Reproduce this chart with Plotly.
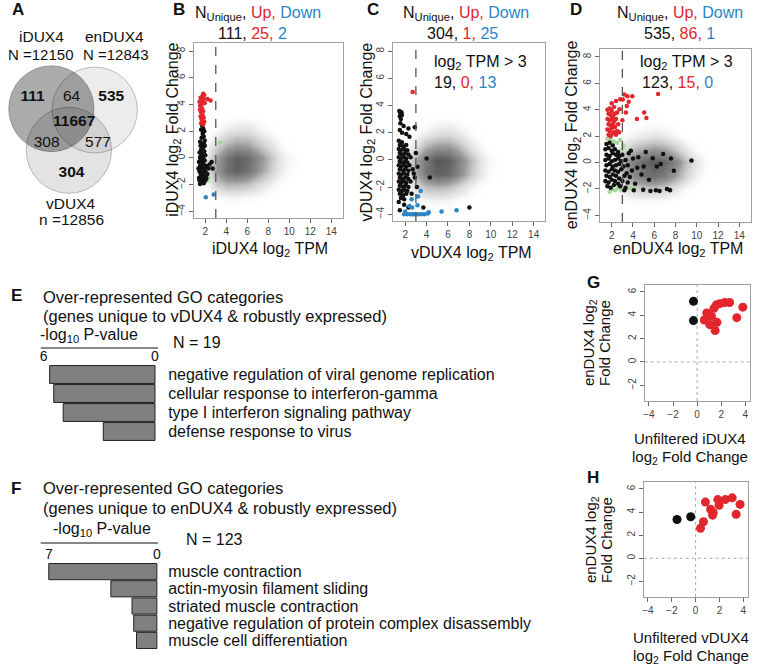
import plotly.graph_objects as go

W, H = 760, 667
FONT = "Liberation Sans, Arial, sans-serif"
RED = "#e2262b"
BLUE = "#2a86c4"
GREEN = "#a8d49e"
BLACK = "#111111"


def px(x):
    return x / W


def py(y):
    return 1 - y / H


# ---------------- data ----------------
# A: Venn counts
venn_sets = ["iDUX4", "enDUX4", "vDUX4"]
venn_totals = ["N =12150", "N =12843", "n =12856"]
venn_regions = ["111", "64", "535", "11667", "308", "577", "304"]
venn_bold = [True, False, True, True, False, False, True]

# B/C/D: gray background density (x bins 1..12, y bins -4..4)
grid_x = [1, 2, 3, 4, 5, 6, 7, 8, 9, 10, 11, 12]
grid_y = [-4, -3, -2, -1, 0, 1, 2, 3, 4]
dens_B = [
    [0, 0, 0, 0, 0, 0, 0, 0, 0, 0, 0, 0],
    [0, 0, .06, .1, .1, .08, .06, .03, .01, 0, 0, 0],
    [0, .05, .3, .4, .4, .35, .25, .15, .06, .02, 0, 0],
    [0, .12, .5, .75, .85, .75, .55, .35, .18, .08, .02, 0],
    [0, .12, .45, .72, .85, .78, .6, .4, .2, .1, .04, 0],
    [0, .06, .25, .42, .5, .48, .35, .22, .1, .04, 0, 0],
    [0, 0, .08, .17, .22, .22, .15, .08, .03, 0, 0, 0],
    [0, 0, 0, .04, .06, .06, .04, .01, 0, 0, 0, 0],
    [0, 0, 0, 0, 0, 0, 0, 0, 0, 0, 0, 0],
]
dens_C = [
    [0, 0, 0, 0, 0, 0, 0, 0, 0, 0, 0, 0],
    [0, 0, .05, .1, .12, .1, .07, .04, .01, 0, 0, 0],
    [0, .02, .25, .38, .42, .38, .28, .15, .06, .02, 0, 0],
    [0, .08, .45, .72, .85, .8, .62, .38, .18, .07, .02, 0],
    [0, .08, .45, .72, .9, .85, .66, .42, .2, .08, .02, 0],
    [0, .03, .22, .42, .52, .52, .4, .22, .1, .03, 0, 0],
    [0, 0, .06, .14, .2, .22, .16, .08, .03, 0, 0, 0],
    [0, 0, 0, .03, .05, .06, .04, .01, 0, 0, 0, 0],
    [0, 0, 0, 0, 0, 0, 0, 0, 0, 0, 0, 0],
]
dens_D = [
    [0, 0, 0, 0, 0, 0, 0, 0, 0, 0, 0, 0],
    [0, 0, .03, .05, .06, .06, .05, .03, .01, 0, 0, 0],
    [0, 0, .18, .28, .32, .32, .28, .18, .08, .03, 0, 0],
    [0, .06, .38, .58, .72, .76, .66, .48, .28, .12, .04, 0],
    [0, .06, .42, .66, .8, .88, .8, .62, .38, .18, .07, .02],
    [0, .03, .22, .37, .47, .52, .47, .32, .17, .07, .02, 0],
    [0, 0, .06, .12, .16, .2, .17, .1, .04, .01, 0, 0],
    [0, 0, 0, .02, .04, .05, .04, .01, 0, 0, 0, 0],
    [0, 0, 0, 0, 0, 0, 0, 0, 0, 0, 0, 0],
]

# B: iDUX4 unique genes
B_red_x = [1.45, 1.55, 1.6, 1.7, 1.8, 1.9, 1.5, 1.65, 1.75, 1.85, 1.95, 1.5, 1.6,
           1.7, 1.8, 2.5, 1.55, 1.65, 1.75, 1.85, 1.6, 1.7, 1.8, 1.9, 2.2]
B_red_y = [4.2, 4.5, 4.3, 4.6, 4.8, 4.7, 3.9, 4.0, 4.2, 4.4, 4.1, 3.6, 3.4,
           3.7, 3.5, 4.3, 3.1, 2.9, 3.2, 3.0, 2.6, 2.8, 2.5, 2.7, 4.4]
B_blk_x = [1.7, 1.8, 1.9, 1.6, 1.75, 1.85, 1.65, 1.95, 1.5, 1.7, 1.8, 1.6, 1.9, 1.45,
           1.7, 2.0, 1.55, 1.8, 1.65, 1.95, 1.4, 1.75, 1.85, 1.5, 2.1, 1.6, 1.9, 1.7,
           2.3, 1.45, 1.8, 2.0, 1.55, 1.65, 1.9, 2.2, 1.4, 1.75, 2.0, 1.6, 1.85, 1.5,
           2.7, 2.6, 1.55, 1.85, 1.6, 1.7, 2.4, 1.35, 1.95, 1.5, 1.7, 1.8, 2.1, 1.45]
B_blk_y = [2.4, 2.2, 2.0, 2.1, 1.8, 1.6, 1.5, 1.3, 1.2, 1.0, 0.8, 0.6, 0.5, 0.4,
           0.3, 0.2, 0.1, 0.0, -0.1, -0.2, -0.3, -0.4, -0.5, -0.6, -0.6, -0.7, -0.8, -0.9,
           -0.8, -1.0, -1.1, -1.0, -1.2, -1.3, -1.4, -1.2, -1.5, -1.6, -1.7, -1.8, -1.9, -1.95,
           -0.8, -0.3, 0.9, 1.1, -0.2, -1.5, -0.5, -0.8, 0.9, 0.0, -0.5, -1.3, -1.5, -1.7]
B_blue_x = [2.05, 2.8]
B_blue_y = [-2.95, -2.75]
B_grn_x = [3.4, 2.2, 2.3]
B_grn_y = [1.15, -1.7, -1.5]

# C: vDUX4 unique genes
C_red_x = [2.7]
C_red_y = [5.0]
C_blk_x = [1.45, 1.55, 1.65, 1.5, 1.6, 1.7, 1.55, 1.85, 2.3, 2.9, 1.5, 1.7, 2.1, 2.4,
           1.4, 1.7, 1.5, 1.8, 2.1, 1.4, 1.6, 1.9, 2.2, 1.5, 1.7, 2.0, 2.3,
           1.4, 1.6, 1.9, 2.1, 2.5, 1.5, 1.7, 2.0, 2.2, 1.4, 1.6, 1.9, 2.1, 2.4,
           1.5, 1.8, 2.0, 2.3, 2.7, 1.4, 1.6, 1.9, 2.2, 1.5, 1.7, 2.0, 2.3, 2.9,
           1.4, 1.6, 1.9, 2.1, 2.5, 1.5, 1.8, 2.0, 2.3, 1.4, 1.7, 1.9, 2.2,
           1.5, 1.8, 2.1, 1.6, 1.9,
           4.0, 4.3, 3.15, 8.0, 1.5, 2.3, 3.7, 3.1, 2.8, 3.0, 2.6, 1.9, 1.4]
C_blk_y = [3.6, 3.4, 3.5, 3.2, 3.0, 3.3, 2.7, 2.5, 2.3, 2.4, 2.2, 2.0, 1.9, 1.7,
           1.4, 1.3, 1.1, 1.0, 1.1, 0.8, 0.7, 0.8, 0.7, 0.5, 0.4, 0.5, 0.4,
           0.2, 0.1, 0.2, 0.1, 0.2, -0.1, -0.2, -0.1, -0.2, -0.4, -0.5, -0.4, -0.5, -0.4,
           -0.7, -0.8, -0.7, -0.8, -0.7, -1.0, -1.1, -1.0, -1.1, -1.3, -1.4, -1.3, -1.4, -1.3,
           -1.6, -1.7, -1.6, -1.7, -1.6, -1.9, -2.0, -1.9, -2.0, -2.2, -2.3, -2.2, -2.3,
           -2.5, -2.6, -2.5, -2.8, -2.9,
           0.1, -1.3, -0.5, -3.5, -3.7, -3.5, -3.5, -2.0, -1.0, 0.5, -2.5, -3.3, -3.1]
C_blue_x = [1.9, 2.2, 2.5, 2.7, 2.9, 3.2, 3.5, 3.8, 4.1, 4.2, 5.4, 6.8, 2.6, 2.65,
            3.15, 3.2, 3.45, 2.0, 2.4]
C_blue_y = [-4.0, -4.0, -4.0, -4.0, -4.0, -4.0, -4.0, -4.0, -3.95, -3.85, -3.8, -3.7, -2.9, -3.5,
            -3.35, -2.7, -2.3, -3.8, -3.4]

# D: enDUX4 unique genes
D_red_x = [1.6, 1.8, 2.0, 2.2, 1.7, 1.9, 2.1, 2.3, 2.5, 1.6, 1.8, 2.0, 2.2, 2.4, 1.7,
           1.9, 2.1, 2.3, 2.6, 1.6, 1.8, 2.0, 2.2, 2.5, 1.7, 1.9, 2.1, 2.4, 2.7, 2.0,
           2.4, 3.04, 3.19, 3.48, 3.93, 3.42, 3.33, 4.37, 5.05, 5.26, 6.36, 2.74, 3.0, 2.8, 3.6]
D_red_y = [4.0, 4.1, 3.9, 4.2, 3.7, 3.6, 3.5, 3.7, 3.8, 3.3, 3.2, 3.3, 3.1, 3.3, 2.9,
           2.8, 2.9, 2.7, 2.9, 2.5, 2.4, 2.6, 2.3, 2.4, 2.1, 2.0, 2.2, 2.1, 2.3, 4.5,
           4.66, 4.78, 5.15, 5.03, 5.03, 4.29, 3.79, 3.3, 3.79, 3.37, 5.2, 4.04, 3.2, 4.8, 4.6]
D_blk_x = [1.5, 1.8, 2.1, 1.4, 1.7, 2.0, 2.3, 2.6, 1.5, 1.8, 2.1, 2.4, 2.7, 3.0, 3.6,
           1.4, 1.7, 2.0, 2.3, 2.6, 2.9, 3.3, 4.0, 1.5, 1.8, 2.1, 2.4, 2.7, 3.1, 3.5, 4.4,
           1.4, 1.7, 2.0, 2.3, 2.6, 2.9, 3.4, 3.9, 1.5, 1.8, 2.1, 2.4, 2.7, 3.2, 3.7,
           1.4, 1.7, 2.0, 2.3, 2.6, 3.0, 3.5, 1.6, 1.9, 2.2, 2.8, 3.3,
           3.19, 4.07, 4.96, 5.64, 6.15, 6.5, 7.19, 7.48, 9.5, 7.84, 7.57, 6.83, 5.85,
           6.24, 5.2, 4.8, 5.5, 4.2, 3.8, 4.5, 6.6, 5.0]
D_blk_y = [1.4, 1.5, 1.3, 1.0, 1.1, 0.9, 1.0, 0.8, 0.6, 0.5, 0.7, 0.6, 0.5, 0.6, 0.7,
           0.2, 0.3, 0.1, 0.2, 0.3, 0.1, 0.2, 0.3, -0.2, -0.1, -0.3, -0.2, -0.1, -0.3, -0.2, -0.4,
           -0.6, -0.7, -0.5, -0.6, -0.7, -0.5, -0.8, -0.6, -1.0, -1.1, -0.9, -1.0, -1.2, -1.0, -1.1,
           -1.4, -1.5, -1.3, -1.4, -1.6, -1.4, -1.5, -1.8, -1.9, -1.7, -1.8, -1.9,
           -2.1, -2.1, -2.05, -2.15, -2.1, -2.15, -2.0, -2.1, 0.16, -0.61, 0.3, 0.65, 0.33,
           -0.29, 0.8, -0.9, -1.3, -1.6, 0.9, 0.4, -0.1, -0.3]
D_grn_x = [1.6, 1.9, 2.2, 2.5, 2.8, 3.1, 2.0, 2.3, 2.6, 2.9, 3.3, 3.7, 4.2, 1.8, 7.5, 1.5, 3.0]
D_grn_y = [1.8, 1.7, 1.6, 1.5, 1.7, 1.3, -2.0, -2.1, -1.9, -2.1, -2.0, -1.9, -1.8, -2.2, -2.0, -1.6, 1.0]
D_blue_x = []
D_blue_y = []

# E/F: GO enrichment (-log10 P)
E_terms = ["negative regulation of viral genome replication",
           "cellular response to interferon-gamma",
           "type I interferon signaling pathway",
           "defense response to virus"]
E_vals = [5.68, 5.46, 4.95, 2.79]
F_terms = ["muscle contraction",
           "actin-myosin filament sliding",
           "striated muscle contraction",
           "negative regulation of protein complex disassembly",
           "muscle cell differentiation"]
F_vals = [7.0, 2.98, 1.61, 1.5, 1.32]

# G/H: enDUX4 LFC vs unfiltered iDUX4 / vDUX4 LFC
G_red_x = [0.8, 0.6, 1.05, 1.5, 1.65, 1.2, 1.4, 1.9, 2.3, 2.7, 3.3, 3.8, 1.6]
G_red_y = [4.2, 3.6, 3.2, 2.7, 3.4, 3.9, 4.6, 5.0, 5.1, 5.1, 3.8, 4.7, 4.9]
G_blk_x = [-0.3, -0.3]
G_blk_y = [5.2, 3.55]
H_red_x = [0.82, 0.41, 0.66, 1.26, 1.48, 1.42, 1.86, 1.97, 2.49, 3.07, 3.4, 3.73]
H_red_y = [4.86, 2.6, 3.16, 4.24, 3.95, 3.73, 5.08, 4.58, 5.08, 5.23, 3.81, 4.66]
H_blk_x = [-1.56, -0.41]
H_blk_y = [3.36, 3.59]

TPM_CUTOFF = 3

fig = go.Figure()


def note(text, x, y, size=16, color="#111", xanchor="center", angle=0):
    fig.add_annotation(text=text, x=px(x), y=py(y), xref="paper", yref="paper",
                       showarrow=False, xanchor=xanchor, yanchor="middle", textangle=angle,
                       font=dict(size=size, color=color, family=FONT))


def scatter_axes(n, xdom, ydom, xr, yr, xt, yt):
    common = dict(showline=True, mirror=True, linecolor="#a0a0a0", linewidth=1,
                  ticks="outside", ticklen=4, tickcolor="#666", showgrid=False,
                  zeroline=False, tickfont=dict(size=10, color="#444", family=FONT))
    ax = dict(domain=[px(xdom[0]), px(xdom[1])], range=xr, tickvals=xt,
              anchor="y" + n, **common)
    ay = dict(domain=[py(ydom[1]), py(ydom[0])], range=yr, tickvals=yt,
              tickangle=-90, anchor="x" + n, **common)
    fig.update_layout(**{"xaxis" + n: ax, "yaxis" + n: ay})


def pts(x, y, color, n, size=4.5):
    if not x:
        return
    fig.add_trace(go.Scatter(x=x, y=y, mode="markers", xaxis="x" + n, yaxis="y" + n,
                             marker=dict(color=color, size=size, line=dict(width=0))))


dens_scale = [[0, "rgba(255,255,255,0)"], [0.15, "rgba(222,222,222,0.6)"],
              [0.5, "rgba(155,155,155,1)"], [1, "rgba(72,72,72,1)"]]
ticks_x = [2, 4, 6, 8, 10, 12, 14]
ticks_y = [-4, -2, 0, 2, 4, 6, 8]

panels = [
    ("", dens_B, (B_grn_x, B_grn_y), (B_blk_x, B_blk_y), (B_red_x, B_red_y),
     (B_blue_x, B_blue_y), (193, 343), (43, 218)),
    ("2", dens_C, ([], []), (C_blk_x, C_blk_y), (C_red_x, C_red_y),
     (C_blue_x, C_blue_y), (394, 547), (43, 221)),
    ("3", dens_D, (D_grn_x, D_grn_y), (D_blk_x, D_blk_y), (D_red_x, D_red_y),
     (D_blue_x, D_blue_y), (602, 754), (49, 222)),
]
for n, dens, grn, blk, red, blue, xd, yd in panels:
    fig.add_trace(go.Heatmap(x=grid_x, y=grid_y, z=dens, zsmooth="best", zmin=0, zmax=1,
                             colorscale=dens_scale, showscale=False,
                             xaxis="x" + n, yaxis="y" + n, hoverinfo="skip"))
    pts(grn[0], grn[1], GREEN, n)
    pts(blk[0], blk[1], BLACK, n)
    pts(red[0], red[1], RED, n)
    pts(blue[0], blue[1], BLUE, n)
    scatter_axes(n, xd, yd, [0.9, 15.1], [-4.5, 8.6], ticks_x, ticks_y)
    fig.add_shape(type="line", xref="x" + n, yref=("y" + n) + " domain", x0=TPM_CUTOFF,
                  x1=TPM_CUTOFF, y0=0, y1=1, line=dict(color="#555", width=1.3, dash="dash"))

# G / H
for n, red, blk, xd, yd in [("6", (G_red_x, G_red_y), (G_blk_x, G_blk_y), (647, 753), (285, 401)),
                            ("7", (H_red_x, H_red_y), (H_blk_x, H_blk_y), (646, 751), (482, 597))]:
    pts(blk[0], blk[1], BLACK, n, size=9)
    pts(red[0], red[1], RED, n, size=9)
    scatter_axes(n, xd, yd, [-4.35, 4.4], [-3.35, 6.6], [-4, -2, 0, 2, 4], [-2, 0, 2, 4, 6])
    fig.add_shape(type="line", xref="x" + n, yref="y" + n + " domain", x0=0, x1=0, y0=0, y1=1,
                  line=dict(color="#aaa", width=1, dash="dot"), layer="below")
    fig.add_shape(type="line", xref="x" + n + " domain", yref="y" + n, x0=0, x1=1, y0=0, y1=0,
                  line=dict(color="#aaa", width=1, dash="dot"), layer="below")

# E / F bars
for n, terms, vals, rng, top_tick, ydom, line_y in [
        ("4", E_terms, E_vals, [6.16, -0.16], 6, (365, 441), 348),
        ("5", F_terms, F_vals, [7.52, -0.07], 7, (563, 649), 543)]:
    fig.add_trace(go.Bar(x=vals, y=terms, orientation="h", xaxis="x" + n, yaxis="y" + n,
                         marker=dict(color="#808080", line=dict(color="#222", width=1))))
    fig.update_layout(**{
        "xaxis" + n: dict(domain=[px(39), px(157)], range=rng, side="top", anchor="y" + n,
                          tickvals=[top_tick, 0],
                          showline=False, showgrid=False, zeroline=False, ticks="",
                          tickfont=dict(size=14, color="#111", family=FONT)),
        "yaxis" + n: dict(domain=[py(ydom[1]), py(ydom[0])], side="right", anchor="x" + n,
                          autorange="reversed", showline=False, showgrid=False,
                          tickmode="array", tickvals=terms, ticktext=terms,
                          ticks="outside", ticklen=6, tickcolor="rgba(0,0,0,0)",
                          tickfont=dict(size=16, color="#111", family=FONT)),
    })
    fig.add_shape(type="line", xref="x" + n + " domain", yref="paper", x0=0, x1=1,
                  y0=py(line_y), y1=py(line_y), line=dict(color="#111", width=1.2))

# A: Venn
venn_cx = [49.7, 93.3, 67.3]
venn_cy = [108.7, 110.0, 150.3]
venn_r = 43
venn_fill = ["rgba(0,0,0,0.33)", "rgba(0,0,0,0.075)", "rgba(0,0,0,0.11)"]
venn_lx = [30.7, 70, 110, 72.7, 45, 96.7, 70]
venn_ly = [97, 97, 97, 122, 143, 143, 173]
fig.update_layout(
    xaxis8=dict(domain=[0, px(165)], range=[0, 165], visible=False, anchor="y8"),
    yaxis8=dict(domain=[py(240), 1], range=[240, 0], visible=False, anchor="x8"),
)
for cx, cy, fill in zip(venn_cx, venn_cy, venn_fill):
    fig.add_shape(type="circle", xref="x8", yref="y8", x0=cx - venn_r, x1=cx + venn_r,
                  y0=cy - venn_r, y1=cy + venn_r, fillcolor=fill,
                  line=dict(color="rgba(0,0,0,0.3)", width=0.8), layer="below")
fig.add_trace(go.Scatter(x=venn_lx, y=venn_ly, mode="text", xaxis="x8", yaxis="y8",
                         text=[f"<b>{t}</b>" if b else t for t, b in zip(venn_regions, venn_bold)],
                         textfont=dict(size=15.5, color="#111", family=FONT)))
note(venn_sets[0], 40, 37, size=15.5)
note(venn_totals[0], 39, 54, size=15)
note(venn_sets[1], 113, 37, size=15.5)
note(venn_totals[1], 114, 54, size=15)
note(venn_sets[2], 69, 203, size=15.5)
note(venn_totals[2], 70, 220, size=15.5)

# panel letters
for lab, x, y in [("A", 8, 10), ("B", 170, 10), ("C", 365, 10), ("D", 570, 10),
                  ("E", 7, 295), ("F", 7, 488), ("G", 587, 282), ("H", 587, 477)]:
    note(f"<b>{lab}</b>", x, y, size=17, xanchor="left")

# B/C/D titles
head = f"N<sub>Unique</sub>, <span style='color:{RED}'>Up,</span> <span style='color:{BLUE}'>Down</span>"


def counts(a, b, c):
    return f"{a}, <span style='color:{RED}'>{b},</span> <span style='color:{BLUE}'>{c}</span>"


note(head, 258, 14)
note(counts(111, 25, 2), 252, 33)
note(head, 467, 14)
note(counts(304, 1, 25), 464, 33)
note(head, 682, 14)
note(counts(535, 86, 1), 682, 33)
note("log<sub>2</sub> TPM > 3", 433, 63, xanchor="left")
note(counts(19, 0, 13), 433, 82, xanchor="left")
note("log<sub>2</sub> TPM > 3", 640, 63, xanchor="left")
note(counts(123, 15, 0), 642, 82, xanchor="left")

note("iDUX4 log<sub>2</sub> Fold Change", 172, 130, angle=-90)
note("vDUX4 log<sub>2</sub> Fold Change", 367, 132, angle=-90)
note("enDUX4 log<sub>2</sub> Fold Change", 574, 135, angle=-90)
note("iDUX4 log<sub>2</sub> TPM", 270, 250)
note("vDUX4 log<sub>2</sub> TPM", 473, 253)
note("enDUX4 log<sub>2</sub> TPM", 680, 250)

# E/F headings
note("Over-represented GO categories", 39, 297, size=16.5, xanchor="left")
note("(genes unique to vDUX4 & robustly expressed)", 39, 316, size=16.5, xanchor="left")
note("-log<sub>10</sub> P-value", 88, 335)
note("N = 19", 170, 343, xanchor="left")
note("Over-represented GO categories", 39, 488, size=16.5, xanchor="left")
note("(genes unique to enDUX4 & robustly expressed)", 39, 508, size=16.5, xanchor="left")
note("-log<sub>10</sub> P-value", 101, 529)
note("N = 123", 183, 539, xanchor="left")

# G/H titles
note("enDUX4 log<sub>2</sub>", 592, 343, size=15, angle=-90)
note("Fold Change", 607, 343, size=15, angle=-90)
note("Unfiltered iDUX4", 693, 438, size=15)
note("log<sub>2</sub> Fold Change", 693, 457, size=15)
note("enDUX4 log<sub>2</sub>", 593, 540, size=15, angle=-90)
note("Fold Change", 608, 540, size=15, angle=-90)
note("Unfiltered vDUX4", 694, 637, size=15)
note("log<sub>2</sub> Fold Change", 694, 656, size=15)

fig.update_layout(width=W, height=H, margin=dict(l=0, r=0, t=0, b=0),
                  paper_bgcolor="white", plot_bgcolor="white", showlegend=False,
                  bargap=0.06, font=dict(family=FONT))

fig.write_html("out.html", config={"displayModeBar": False},
               post_script="document.body.style.margin='0px';")
